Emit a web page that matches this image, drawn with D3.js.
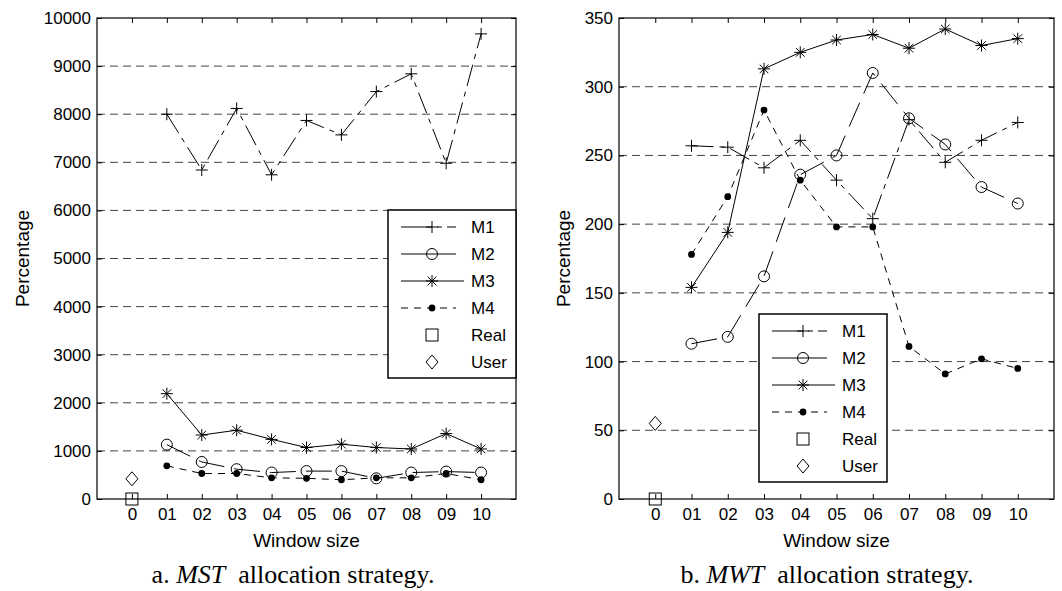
<!DOCTYPE html>
<html>
<head>
<meta charset="utf-8">
<script src="https://cdn.jsdelivr.net/npm/d3@7"></script>
<style>
  body { margin: 0; background: #fff; }
  svg text { font-family: "Liberation Sans", Arial, sans-serif; fill: #000; }
  svg text.caption { font-family: "Liberation Serif", "Times New Roman", serif; }
</style>
</head>
<body>
<svg id="chart" width="1062" height="591"></svg>
<script>
// window sizes on the x axis
let windowTicks = [0, 1, 2, 3, 4, 5, 6, 7, 8, 9, 10];
let windowLabels = ['0', '01', '02', '03', '04', '05', '06', '07', '08', '09', '10'];
let windows = [1, 2, 3, 4, 5, 6, 7, 8, 9, 10];

// panel a: MST
let mstM1 = [8000, 6840, 8120, 6740, 7870, 7570, 8470, 8840, 6980, 9670];
let mstM2 = [1130, 770, 620, 550, 580, 580, 430, 550, 570, 550];
let mstM3 = [2190, 1330, 1430, 1240, 1070, 1140, 1070, 1040, 1360, 1040];
let mstM4 = [690, 530, 530, 440, 430, 400, 440, 440, 530, 400];
let mstReal = 0;
let mstUser = 420;
let mstYTicks = d3.range(0, 10001, 1000);

// panel b: MWT
let mwtM1 = [257, 256, 241, 261, 232, 204, 276, 245, 261, 274];
let mwtM2 = [113, 118, 162, 236, 250, 310, 277, 258, 227, 215];
let mwtM3 = [154, 194, 313, 325, 334, 338, 328, 342, 330, 335];
let mwtM4 = [178, 220, 283, 232, 198, 198, 111, 91, 102, 95];
let mwtReal = 0;
let mwtUser = 55;
let mwtYTicks = d3.range(0, 351, 50);

let legendNames = ['M1', 'M2', 'M3', 'M4', 'Real', 'User'];

let seriesStyle = {
  M1: {marker: 'plus', dash: '22,6,5,6'},
  M2: {marker: 'circle', dash: '26,10'},
  M3: {marker: 'star', dash: null},
  M4: {marker: 'dot', dash: '7,6'}
};

let svg = d3.select('#chart');

function drawMarker(g, type, x, y) {
  if (type == 'plus') {
    g.append('path')
      .attr('d', `M${x-6},${y}H${x+6}M${x},${y-6}V${y+6}`)
      .style('stroke', '#000').style('fill', 'none');
  } else if (type == 'circle') {
    g.append('circle').attr('cx', x).attr('cy', y).attr('r', 5.5)
      .style('stroke', '#000').style('fill', 'none');
  } else if (type == 'star') {
    g.append('path')
      .attr('d', `M${x-6},${y}H${x+6}M${x},${y-6}V${y+6}M${x-4.3},${y-4.3}L${x+4.3},${y+4.3}M${x-4.3},${y+4.3}L${x+4.3},${y-4.3}`)
      .style('stroke', '#000').style('fill', 'none');
  } else if (type == 'dot') {
    g.append('circle').attr('cx', x).attr('cy', y).attr('r', 3.4)
      .style('fill', '#000');
  } else if (type == 'square') {
    g.append('rect').attr('x', x - 6).attr('y', y - 6).attr('width', 12).attr('height', 12)
      .style('stroke', '#000').style('fill', 'none');
  } else if (type == 'diamond') {
    g.append('path')
      .attr('d', `M${x},${y-7}L${x+6},${y}L${x},${y+7}L${x-6},${y}Z`)
      .style('stroke', '#000').style('fill', 'none');
  }
}

function drawPanel(cfg) {
  let g = svg.append('g');

  let x = d3.scaleLinear().domain([-1, 11]).range([cfg.left, cfg.right]);
  let y = d3.scaleLinear().domain([0, cfg.yTicks[cfg.yTicks.length - 1]]).range([cfg.bottom, cfg.top]);

  // dashed grid
  g.selectAll('line.grid')
    .data(cfg.yTicks.slice(1, -1))
    .enter()
    .append('line')
    .attr('class', 'grid')
    .attr('x1', cfg.left).attr('x2', cfg.right)
    .attr('y1', d => y(d)).attr('y2', d => y(d))
    .style('stroke', '#444')
    .style('stroke-width', 1)
    .style('stroke-dasharray', '8,5');

  // axes (inward ticks, box)
  let xBottom = d3.axisBottom(x).tickValues(windowTicks).tickSize(-5)
    .tickFormat((d, i) => windowLabels[i]).tickSizeOuter(0);
  let xTop = d3.axisTop(x).tickValues(windowTicks).tickSize(-5).tickFormat('').tickSizeOuter(0);
  let yLeft = d3.axisLeft(y).tickValues(cfg.yTicks).tickSize(-5)
    .tickFormat(d3.format('d')).tickSizeOuter(0);
  let yRight = d3.axisRight(y).tickValues(cfg.yTicks).tickSize(-5).tickFormat('').tickSizeOuter(0);

  let gb = g.append('g').attr('transform', `translate(0,${cfg.bottom})`).call(xBottom);
  gb.selectAll('text').attr('dy', null).attr('y', 21).style('font-size', '17px')
    .style('font-family', '"Liberation Sans", Arial, sans-serif');
  g.append('g').attr('transform', `translate(0,${cfg.top})`).call(xTop);
  let gl = g.append('g').attr('transform', `translate(${cfg.left},0)`).call(yLeft);
  gl.selectAll('text').attr('x', -6).style('font-size', '17px')
    .style('font-family', '"Liberation Sans", Arial, sans-serif');
  g.append('g').attr('transform', `translate(${cfg.right},0)`).call(yRight);
  g.selectAll('.domain').remove();
  g.selectAll('.tick line').style('stroke', '#000');

  g.append('rect')
    .attr('x', cfg.left).attr('y', cfg.top)
    .attr('width', cfg.right - cfg.left).attr('height', cfg.bottom - cfg.top)
    .style('fill', 'none').style('stroke', '#000').style('stroke-width', 1.2);

  // series
  let line = d3.line().x((d, i) => x(windows[i])).y(d => y(d));
  ['M1', 'M2', 'M3', 'M4'].forEach(name => {
    let vals = cfg.series[name];
    let st = seriesStyle[name];
    g.append('path')
      .attr('d', line(vals))
      .style('fill', 'none')
      .style('stroke', '#000')
      .style('stroke-width', 1)
      .style('stroke-dasharray', st.dash);
    vals.forEach((v, i) => drawMarker(g, st.marker, x(windows[i]), y(v)));
  });
  drawMarker(g, 'square', x(0), y(cfg.real));
  drawMarker(g, 'diamond', x(0), y(cfg.user));

  // legend
  let lg = g.append('g');
  lg.append('rect')
    .attr('x', cfg.legX).attr('y', cfg.legY)
    .attr('width', 128).attr('height', 168)
    .style('fill', '#fff').style('stroke', '#000').style('stroke-width', 1.5);
  legendNames.forEach((name, i) => {
    let ly = cfg.legY + 17 + i * 27;
    let mx = cfg.legX + 44;
    if (seriesStyle[name]) {
      let st = seriesStyle[name];
      lg.append('line')
        .attr('x1', cfg.legX + 13).attr('x2', cfg.legX + (name == 'M3' ? 76 : 68))
        .attr('y1', ly).attr('y2', ly)
        .style('stroke', '#000')
        .style('stroke-dasharray', name == 'M4' ? '7,6' : (name == 'M1' ? '31,5,5,5' : null));
      drawMarker(lg, st.marker, mx, ly);
    } else {
      drawMarker(lg, name == 'Real' ? 'square' : 'diamond', mx, ly);
    }
    lg.append('text')
      .attr('x', cfg.legX + 83).attr('y', ly)
      .attr('dy', '0.36em')
      .style('font-size', '17px')
      .text(name);
  });

  // labels
  g.append('text')
    .attr('transform', `translate(${cfg.yLabelX},${(cfg.top + cfg.bottom) / 2}) rotate(-90)`)
    .attr('text-anchor', 'middle')
    .attr('dy', '0.35em')
    .style('font-size', '19px')
    .text('Percentage');

  g.append('text')
    .attr('x', (cfg.left + cfg.right) / 2).attr('y', 547)
    .attr('text-anchor', 'middle')
    .style('font-size', '19px')
    .text('Window size');

  let cap = g.append('text')
    .attr('class', 'caption')
    .attr('x', cfg.capX).attr('y', 583)
    .attr('text-anchor', 'middle')
    .style('font-size', '26px');
  cap.append('tspan').text(cfg.capLetter + ' ');
  cap.append('tspan').style('font-style', 'italic').text(cfg.capName);
  cap.append('tspan').text('\u00a0 allocation strategy.');
}

drawPanel({
  left: 97, right: 516, top: 18, bottom: 499,
  yTicks: mstYTicks,
  series: {M1: mstM1, M2: mstM2, M3: mstM3, M4: mstM4},
  real: mstReal, user: mstUser,
  legX: 388, legY: 210,
  yLabelX: 22,
  capX: 293, capLetter: 'a.', capName: 'MST'
});

drawPanel({
  left: 619, right: 1054, top: 18, bottom: 499,
  yTicks: mwtYTicks,
  series: {M1: mwtM1, M2: mwtM2, M3: mwtM3, M4: mwtM4},
  real: mwtReal, user: mwtUser,
  legX: 759, legY: 314,
  yLabelX: 563,
  capX: 827, capLetter: 'b.', capName: 'MWT'
});
</script>
</body>
</html>
